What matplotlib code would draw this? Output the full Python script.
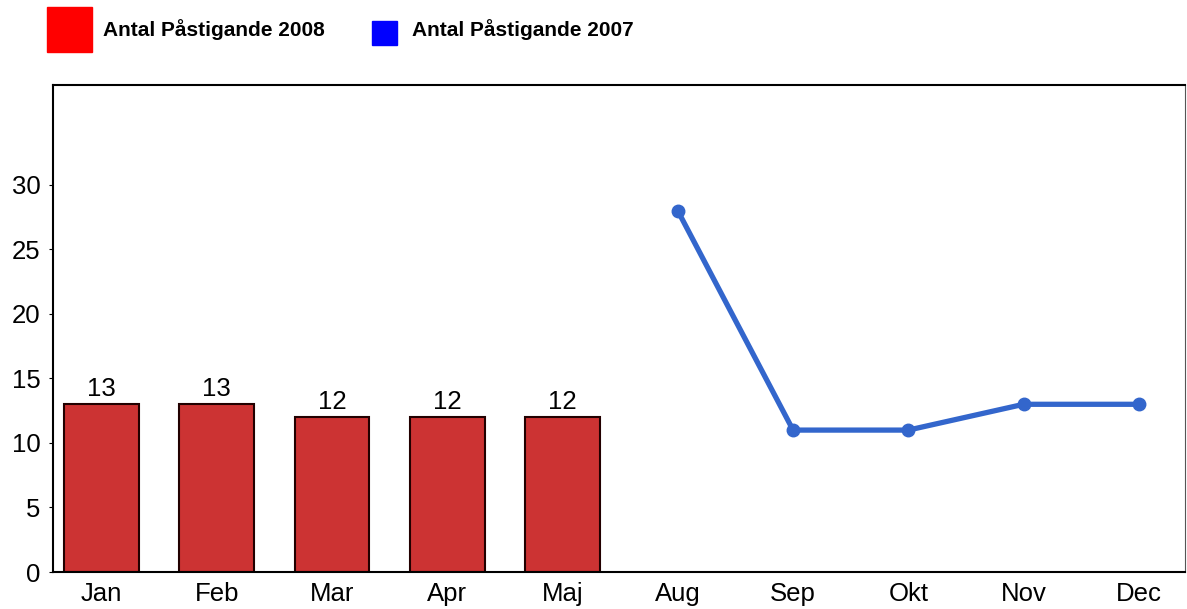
import matplotlib.pyplot as plt
from matplotlib.patches import Rectangle

months = ["Jan", "Feb", "Mar", "Apr", "Maj", "Aug", "Sep", "Okt", "Nov", "Dec"]
bar_months = ["Jan", "Feb", "Mar", "Apr", "Maj"]
pastigande_2008 = [13, 13, 12, 12, 12]
line_months = ["Aug", "Sep", "Okt", "Nov", "Dec"]
pastigande_2007 = [28, 11, 11, 13, 13]

plt.rcParams['font.family'] = ['Liberation Sans', 'DejaVu Sans']

W, H = 1187, 609
fig = plt.figure(figsize=(W / 100, H / 100), dpi=100)
ax = fig.add_axes([53 / W, 1 - 572 / H, (1185 - 53) / W, (572 - 85) / H])

xpos = {m: i for i, m in enumerate(months)}
bx = [xpos[m] for m in bar_months]
lx = [xpos[m] for m in line_months]

bars = ax.bar(bx, pastigande_2008, width=0.65, color="#cc3333",
              edgecolor="#220000", linewidth=1.5, zorder=2)
for b, v in zip(bars, pastigande_2008):
    ax.text(b.get_x() + b.get_width() / 2, v + 0.25, str(v),
            ha="center", va="bottom", fontsize=18.5)

ax.plot(lx, pastigande_2007, color="#3366cc", linewidth=3.8,
        marker="o", markersize=9, zorder=3)

ax.set_xlim(-0.42, 9.4)
ax.set_ylim(0, 37.75)
ax.set_xticks(range(len(months)))
ax.set_xticklabels(months)
ax.set_yticks(range(0, 31, 5))
ax.tick_params(axis="x", length=0, labelsize=18.5, pad=7)
ax.tick_params(axis="y", length=3, labelsize=18.5, pad=6)
for s in ["left", "bottom", "top"]:
    ax.spines[s].set_linewidth(1.5)
    ax.spines[s].set_color("black")
ax.spines["right"].set_linewidth(0.8)
ax.spines["right"].set_color("#555555")

# legend
fig.patches.append(Rectangle((47 / W, 1 - 52 / H), 45 / W, 45 / H,
                             transform=fig.transFigure, color="#ff0000"))
fig.text(103 / W, 1 - 30 / H, "Antal Påstigande 2008", fontsize=15,
         fontweight="bold", va="center", ha="left")
fig.patches.append(Rectangle((372 / W, 1 - 45 / H), 25 / W, 24 / H,
                             transform=fig.transFigure, color="#0000ff"))
fig.text(412 / W, 1 - 30 / H, "Antal Påstigande 2007", fontsize=15,
         fontweight="bold", va="center", ha="left")

fig.savefig("out.png", dpi=100)
